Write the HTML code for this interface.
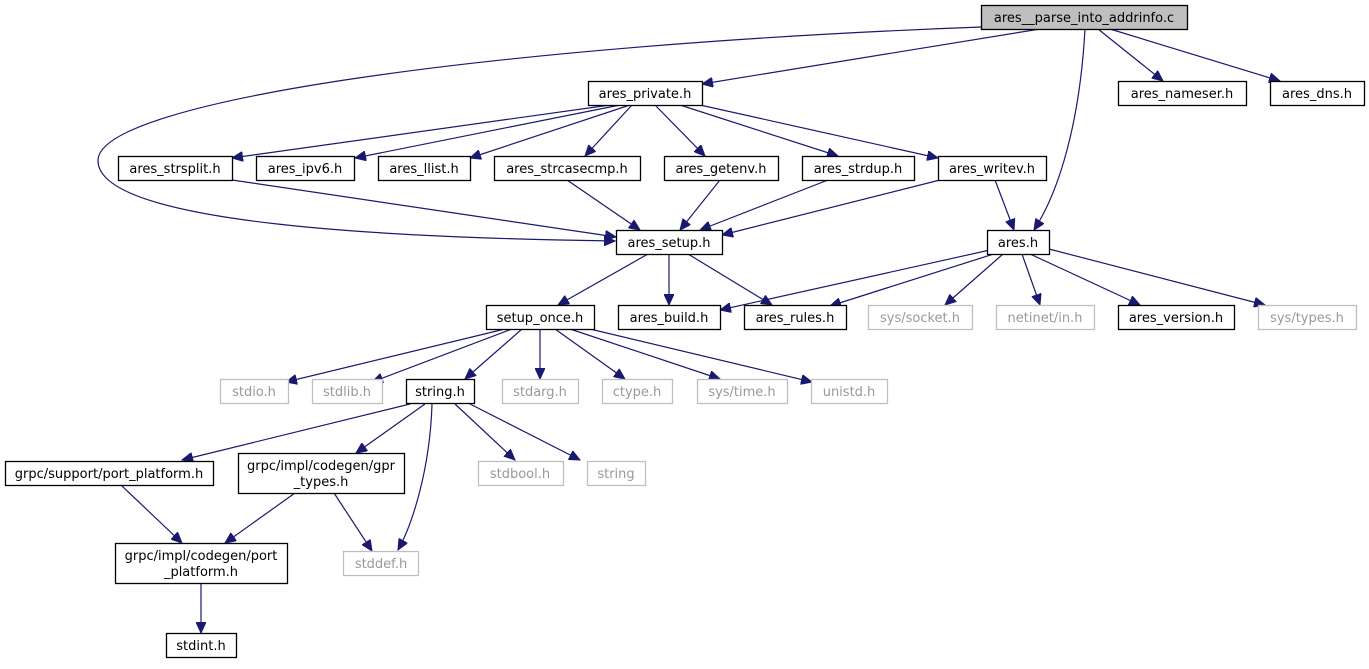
<!DOCTYPE html>
<html><head><meta charset="utf-8"><style>
body{margin:0;background:#fff;}
svg text{font-family:"DejaVu Sans","Liberation Sans",sans-serif;font-size:13px;fill:#000;text-anchor:middle;}
</style></head><body>
<svg width="1369" height="664" viewBox="0 0 1369 664" xmlns="http://www.w3.org/2000/svg">
<defs><marker id="a" markerUnits="userSpaceOnUse" markerWidth="12" markerHeight="10" refX="11" refY="5" orient="auto"><path d="M0,0 L11,5 L0,10 z" fill="#191970" stroke="#191970"/></marker></defs>
<g fill="none" stroke="#191970" stroke-width="1.2" marker-end="url(#a)">
<path d="M981,27 C500,45 100,100 98,160 C96,225 400,238 615,241"/>
<path d="M1040,29 L702,84"/>
<path d="M1098,29 L1163,81"/>
<path d="M1110,29 L1280,81"/>
<path d="M1085,29 C1080,120 1060,190 1034,230"/>
<path d="M610,105 L232,158"/>
<path d="M620,105 L355,158"/>
<path d="M630,105 L470,158"/>
<path d="M632,105 L585,156"/>
<path d="M655,105 L705,156"/>
<path d="M680,105 L838,156"/>
<path d="M700,105 L938,158"/>
<path d="M232,180 L616,237"/>
<path d="M567,180 L640,230"/>
<path d="M720,180 L680,230"/>
<path d="M828,180 L700,230"/>
<path d="M940,180 L722,235"/>
<path d="M995,180 L1014,230"/>
<path d="M648,254 L558,305"/>
<path d="M669,254 L669,305"/>
<path d="M688,254 L772,305"/>
<path d="M990,250 L720,310"/>
<path d="M1000,252 L830,306"/>
<path d="M1003,254 L945,305"/>
<path d="M1022,254 L1040,305"/>
<path d="M1030,254 L1140,305"/>
<path d="M1049,249 L1265,305"/>
<path d="M505,329 L286,382"/>
<path d="M512,329 L372,382"/>
<path d="M522,329 L465,379"/>
<path d="M540,329 L540,379"/>
<path d="M555,329 L625,379"/>
<path d="M570,329 L720,379"/>
<path d="M590,329 L812,382"/>
<path d="M410,404 L182,460"/>
<path d="M425,404 L356,453"/>
<path d="M432,404 C430,470 412,525 398,550"/>
<path d="M455,404 L515,460"/>
<path d="M470,404 L580,460"/>
<path d="M122,486 L182,543"/>
<path d="M295,493 L225,543"/>
<path d="M334,493 L372,551"/>
<path d="M201,583 L201,633"/>
</g>
<g stroke-width="1.3">
<rect x="981.5" y="5.5" width="206" height="24" fill="#bfbfbf" stroke="#000"/>
<g fill="#fff" stroke="#000">
<rect x="588.5" y="81.5" width="114" height="24"/>
<rect x="1118.5" y="81.5" width="128" height="24"/>
<rect x="1270.5" y="81.5" width="94" height="24"/>
<rect x="118.5" y="156.5" width="114" height="24"/>
<rect x="256.5" y="156.5" width="98" height="24"/>
<rect x="378.5" y="156.5" width="92" height="24"/>
<rect x="494.5" y="156.5" width="146" height="24"/>
<rect x="664.5" y="156.5" width="114" height="24"/>
<rect x="802.5" y="156.5" width="112" height="24"/>
<rect x="938.5" y="156.5" width="108" height="24"/>
<rect x="616.5" y="230.5" width="106" height="24"/>
<rect x="987.5" y="230.5" width="62" height="24"/>
<rect x="486.5" y="305.5" width="108" height="24"/>
<rect x="618.5" y="305.5" width="102" height="24"/>
<rect x="744.5" y="305.5" width="102" height="24"/>
<rect x="1118.5" y="305.5" width="116" height="24"/>
<rect x="406.5" y="379.5" width="68" height="24"/>
<rect x="5.5" y="461.5" width="208" height="24"/>
<rect x="238.5" y="453.5" width="166" height="40"/>
<rect x="115.5" y="543.5" width="172" height="40"/>
<rect x="166.5" y="633.5" width="70" height="24"/>
</g>
<g fill="#fff" stroke="#bfbfbf">
<rect x="868.5" y="305.5" width="104" height="24"/>
<rect x="996.5" y="305.5" width="98" height="24"/>
<rect x="1258.5" y="305.5" width="98" height="24"/>
<rect x="220.5" y="379.5" width="68" height="24"/>
<rect x="312.5" y="379.5" width="70" height="24"/>
<rect x="502.5" y="379.5" width="76" height="24"/>
<rect x="602.5" y="379.5" width="70" height="24"/>
<rect x="697.5" y="379.5" width="90" height="24"/>
<rect x="811.5" y="379.5" width="76" height="24"/>
<rect x="478.5" y="461.5" width="85" height="24"/>
<rect x="587.5" y="461.5" width="58" height="24"/>
<rect x="343.5" y="551.5" width="75" height="24"/>
</g>
</g>
<text x="1084" y="22">ares__parse_into_addrinfo.c</text>
<text x="645" y="98">ares_private.h</text>
<text x="1182" y="98">ares_nameser.h</text>
<text x="1317" y="98">ares_dns.h</text>
<text x="175" y="173">ares_strsplit.h</text>
<text x="305" y="173">ares_ipv6.h</text>
<text x="424" y="173">ares_llist.h</text>
<text x="567" y="173">ares_strcasecmp.h</text>
<text x="721" y="173">ares_getenv.h</text>
<text x="858" y="173">ares_strdup.h</text>
<text x="992" y="173">ares_writev.h</text>
<text x="669" y="247">ares_setup.h</text>
<text x="1018" y="247">ares.h</text>
<text x="540" y="322">setup_once.h</text>
<text x="669" y="322">ares_build.h</text>
<text x="795" y="322">ares_rules.h</text>
<text x="920" y="322" style="fill:#999">sys/socket.h</text>
<text x="1045" y="322" style="fill:#999">netinet/in.h</text>
<text x="1176" y="322">ares_version.h</text>
<text x="1307" y="322" style="fill:#999">sys/types.h</text>
<text x="254" y="396" style="fill:#999">stdio.h</text>
<text x="347" y="396" style="fill:#999">stdlib.h</text>
<text x="440" y="396">string.h</text>
<text x="540" y="396" style="fill:#999">stdarg.h</text>
<text x="637" y="396" style="fill:#999">ctype.h</text>
<text x="742" y="396" style="fill:#999">sys/time.h</text>
<text x="849" y="396" style="fill:#999">unistd.h</text>
<text x="109" y="478">grpc/support/port_platform.h</text>
<text x="321" y="470">grpc/impl/codegen/gpr</text>
<text x="321" y="486">_types.h</text>
<text x="520" y="478" style="fill:#999">stdbool.h</text>
<text x="616" y="478" style="fill:#999">string</text>
<text x="201" y="560">grpc/impl/codegen/port</text>
<text x="201" y="576">_platform.h</text>
<text x="381" y="568" style="fill:#999">stddef.h</text>
<text x="201" y="650">stdint.h</text>
</svg>
</body></html>
